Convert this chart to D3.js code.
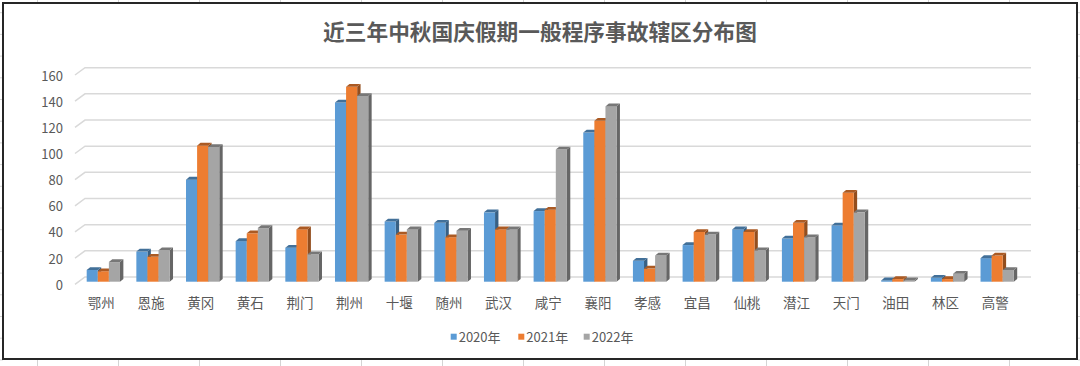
<!DOCTYPE html>
<html><head><meta charset="utf-8">
<script src="https://cdn.jsdelivr.net/npm/d3@7"></script>
<style>html,body{margin:0;padding:0;background:#fff;}svg{display:block;}</style>
</head><body>
<svg id="c" width="1080" height="366"></svg>
<script>
const categories = ['鄂州','恩施','黄冈','黄石','荆门','荆州','十堰','随州','武汉','咸宁','襄阳','孝感','宜昌','仙桃','潜江','天门','油田','林区','高警'];
const series = ['2020年','2021年','2022年'];
const v2020 = [9,23,78,31,26,137,46,45,53,54,114,16,28,40,33,43,1,3,18];
const v2021 = [8,19,104,37,40,149,36,34,40,55,123,10,38,38,45,68,2,2,20];
const v2022 = [15,24,103,41,21,142,40,39,40,101,134,20,36,24,34,53,1,6,9];
const yTicks = [0,20,40,60,80,100,120,140,160];
const colors = ['#5B9BD5','#ED7D31','#A5A5A5'];

const svg = d3.select('#c');
const font = '"Noto Sans CJK SC", "Noto Sans", sans-serif';
const textCol = '#595959';

// spreadsheet cell lines outside the chart frame
const sheet = svg.append('g').attr('stroke','#d4d4d4').attr('stroke-width',1);
d3.range(37, 1080, 81).forEach(x => {
  sheet.append('line').attr('x1',x+0.5).attr('x2',x+0.5).attr('y1',0).attr('y2',3);
  sheet.append('line').attr('x1',x+0.5).attr('x2',x+0.5).attr('y1',360).attr('y2',366);
});
d3.range(12.7, 366, 21.7).forEach(y => {
  sheet.append('line').attr('x1',0).attr('x2',3).attr('y1',y).attr('y2',y);
  sheet.append('line').attr('x1',1078).attr('x2',1080).attr('y1',y).attr('y2',y);
});

// frame
svg.append('rect').attr('x',3).attr('y',3).attr('width',1074).attr('height',356)
  .attr('fill','#fff').attr('stroke','#262626').attr('stroke-width',2);

// title
svg.append('text').attr('x',540).attr('y',30).attr('text-anchor','middle')
  .attr('dominant-baseline','central').attr('font-family',font).attr('font-weight','bold')
  .attr('font-size',21.7).attr('fill',textCol).text('近三年中秋国庆假期一般程序事故辖区分布图');

// scales
const depthX = 10, depthY = 7.3;
const yGrid = d3.scaleLinear().domain([0,160]).range([277, 67.7]);
const yBar = d3.scaleLinear().domain([0,160]).range([281.7, 281.7 - 209.3]);
const x = d3.scaleBand().domain(categories).range([78.5, 1022]).paddingInner(0.33).paddingOuter(0.165);
const xs = d3.scaleBand().domain(series).range([0, x.bandwidth()]);

// gridlines (back wall + diagonal floor edge)
const grid = svg.append('g').attr('stroke','#d9d9d9').attr('stroke-width',1.5).attr('fill','none');
yTicks.forEach(t => {
  const yb = yGrid(t);
  grid.append('path').attr('d', `M${85-depthX},${yb+depthY} L85,${yb} L1031,${yb}`);
});

// y labels
svg.append('g').selectAll('text').data(yTicks).join('text')
  .attr('x',63).attr('y', d => yGrid(d)+depthY).attr('text-anchor','end')
  .attr('dominant-baseline','central').attr('font-family',font).attr('font-size',13)
  .attr('fill',textCol).text(d => d);

// bars
const bdx = 3.4, bdy = 2.8;
const allVals = [v2020, v2021, v2022];
const bars = svg.append('g');
categories.forEach((c, i) => {
  allVals.forEach((vals, s) => {
    const v = vals[i];
    const bx = x(c) + xs(series[s]);
    const w = xs.bandwidth();
    const yt = yBar(v), yb = yBar(0);
    const col = d3.color(colors[s]);
    const top = d3.rgb(col.r*0.72, col.g*0.72, col.b*0.72);
    const side = d3.rgb(col.r*0.62, col.g*0.62, col.b*0.62);
    const g = bars.append('g');
    g.append('path').attr('fill', side)
      .attr('d', `M${bx+w},${yt} L${bx+w+bdx},${yt-bdy} L${bx+w+bdx},${yb-bdy} L${bx+w},${yb} Z`);
    g.append('rect').attr('x',bx).attr('y',yt).attr('width',w).attr('height',yb-yt).attr('fill',colors[s]);
    g.append('path').attr('fill', top)
      .attr('d', `M${bx},${yt} L${bx+bdx},${yt-bdy} L${bx+w+bdx},${yt-bdy} L${bx+w},${yt} Z`);
  });
});

// category labels
svg.append('g').selectAll('text').data(categories).join('text')
  .attr('x', d => x(d) + x.bandwidth()/2 - 2).attr('y', 302)
  .attr('text-anchor','middle').attr('dominant-baseline','central')
  .attr('font-family',font).attr('font-size',13.5).attr('fill',textCol).text(d => d);

// legend
const legX = [450.7, 518.3, 583.7];
const leg = svg.append('g');
series.forEach((s, k) => {
  leg.append('rect').attr('x',legX[k]).attr('y',333.7).attr('width',6).attr('height',6).attr('fill',colors[k]);
  leg.append('text').attr('x',legX[k]+8).attr('y',336.7).attr('dominant-baseline','central')
    .attr('font-family',font).attr('font-size',13).attr('fill',textCol).text(s);
});
</script>
</body></html>
